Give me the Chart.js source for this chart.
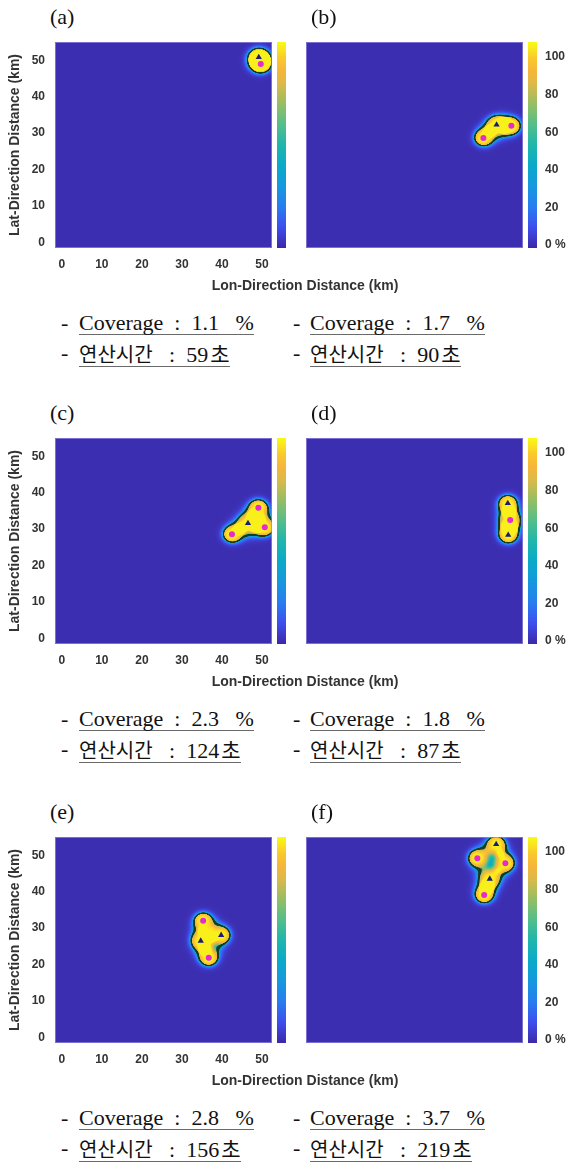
<!DOCTYPE html>
<html lang="ko">
<head>
<meta charset="UTF-8">
<title>Coverage</title>
<script src="https://cdn.jsdelivr.net/npm/chart.js"></script>
<style>
  body { margin: 0; background: #fff; }
  #page { position: relative; width: 570px; height: 1163px; overflow: hidden; }
  canvas { position: absolute; }
  .tag { position: absolute; font: 22px "Liberation Serif", "Times New Roman", serif; line-height: 22px; color: #111; }
  .xlab { position: absolute; width: 300px; text-align: center; font: bold 14px "Liberation Sans", Arial, sans-serif; line-height: 16px; color: #333; }
  .cap { position: absolute; font: 22px "Liberation Serif", "Times New Roman", serif; line-height: 22px; color: #111; white-space: nowrap; }
  .cap u { text-decoration: none; display: inline-block; border-bottom: 1.5px solid #6a6a6a; line-height: 22px; }
  .kr { font-family: "Noto Sans CJK KR", sans-serif; font-size: 20px; }
  .kr2 { font-family: "Noto Sans CJK KR", sans-serif; font-size: 21px; margin-left: 2px; }
</style>
</head>
<body>
<div id="page"></div>
<script>
// ---- data ----
const panelTags = ['(a)', '(b)', '(c)', '(d)', '(e)', '(f)'];
const coverage = ['1.1', '1.7', '2.3', '1.8', '2.8', '3.7'];
const runTime = ['59', '90', '124', '87', '156', '219'];

// sensor positions (km): pink circles and dark triangles
const circleSensors = [
    [[49.7, 49.0]],
    [[42.6, 28.7], [49.6, 32.0]],
    [[42.5, 28.6], [49.1, 35.9], [50.7, 30.5]],
    [[49.3, 32.5]],
    [[35.3, 32.0], [36.7, 21.9]],
    [[41.1, 49.2], [48.1, 47.8], [42.8, 39.1]]
];
const triangleSensors = [
    [[49.2, 50.8]],
    [[45.9, 32.3]],
    [[46.5, 31.6]],
    [[48.7, 37.1], [48.8, 28.4]],
    [[34.7, 26.5], [39.8, 28.1]],
    [[45.8, 53.0], [44.2, 43.5]]
];

const xTicks = [0, 10, 20, 30, 40, 50];
const yTicks = [0, 10, 20, 30, 40, 50];
const cbTicks = [0, 20, 40, 60, 80, 100];
const cbTickLabels = ['0 %', '20', '40', '60', '80', '100'];

const xRange = [-1.7, 52.5];
const yRange = [-1.5, 55];
const cbRange = [-1.6, 108];

// ---- layout ----
const plotTops = [42, 438, 837];
const tickFont = { family: 'Liberation Sans, Arial, sans-serif', size: 12, weight: 'bold' };
const textColor = '#333';

// parula-like colormap
const stops = [
    [0.00, 60, 40, 165], [0.10, 62, 78, 238], [0.20, 40, 125, 240], [0.30, 22, 152, 222],
    [0.40, 10, 170, 200], [0.50, 30, 182, 172], [0.60, 85, 190, 138], [0.70, 150, 190, 100],
    [0.80, 222, 185, 72], [0.86, 246, 182, 58], [0.92, 250, 200, 45], [1.00, 249, 251, 20]
];
function cmap(v) {
    let t = (v - cbRange[0]) / (cbRange[1] - cbRange[0]);
    t = Math.max(0, Math.min(1, t));
    for (let i = 1; i < stops.length; i++) {
        if (t <= stops[i][0]) {
            const a = stops[i - 1], b = stops[i];
            const f = (t - a[0]) / (b[0] - a[0]);
            return [a[1] + (b[1] - a[1]) * f, a[2] + (b[2] - a[2]) * f, a[3] + (b[3] - a[3]) * f];
        }
    }
    return [249, 251, 20];
}

// coverage field around the sensors
const K = 1.7, RC = 2.0, A = 3.2;
const lineCol = [18, 62, 40];

const heatPlugin = {
    id: 'heat',
    beforeDatasetsDraw(chart, args, opts) {
        const { ctx, chartArea: a, scales } = chart;
        const sensors = opts.sensors;
        const w = Math.round(a.right - a.left), h = Math.round(a.bottom - a.top);
        const off = document.createElement('canvas');
        off.width = w; off.height = h;
        const octx = off.getContext('2d');
        const img = octx.createImageData(w, h);
        for (let py = 0; py < h; py++) {
            const y = scales.y.getValueForPixel(a.top + py + 0.5);
            for (let px = 0; px < w; px++) {
                const x = scales.x.getValueForPixel(a.left + px + 0.5);
                let sumE = 0, sumH = 0;
                for (const s of sensors) {
                    const d = Math.hypot(x - s[0], y - s[1]);
                    sumE += Math.exp(-d / K);
                    sumH += Math.exp(-Math.pow(d / A, 4));
                }
                const sd = -K * Math.log(sumE) - RC;
                const v = sd <= 0 ? 106 * Math.min(1, sumH) : 58 * Math.exp(-sd / 0.45);
                let c = cmap(v);
                const ad = Math.abs(sd);
                if (ad < 0.24) {
                    const al = ad < 0.13 ? 1 : 1 - (ad - 0.13) / 0.11;
                    c = [c[0] + (lineCol[0] - c[0]) * al, c[1] + (lineCol[1] - c[1]) * al, c[2] + (lineCol[2] - c[2]) * al];
                }
                const k = (py * w + px) * 4;
                img.data[k] = c[0]; img.data[k + 1] = c[1]; img.data[k + 2] = c[2]; img.data[k + 3] = 255;
            }
        }
        octx.putImageData(img, 0, 0);
        ctx.save();
        ctx.drawImage(off, a.left, a.top);
        ctx.strokeStyle = 'rgba(150,140,225,0.7)';
        ctx.lineWidth = 1;
        ctx.strokeRect(a.left + 0.5, a.top + 0.5, w - 1, h - 1);
        // colorbar
        const cb = scales.y2;
        for (let py = Math.round(a.top); py < Math.round(a.bottom); py++) {
            const c = cmap(cb.getValueForPixel(py + 0.5));
            ctx.fillStyle = 'rgb(' + c.map(Math.round).join(',') + ')';
            ctx.fillRect(Math.round(a.right) + 5, py, 9, 1);
        }
        ctx.restore();
    }
};

const page = document.getElementById('page');

function addDiv(cls, html, left, top) {
    const d = document.createElement('div');
    d.className = cls;
    d.innerHTML = html;
    d.style.left = left + 'px';
    d.style.top = top + 'px';
    page.appendChild(d);
    return d;
}

// fix an axis box size and drop the label overhang padding
function fixV(w) {
    return s => { s.width = w; s.paddingTop = 0; s.paddingBottom = 0; };
}
function fixH(h) {
    return s => { s.height = h; s.paddingLeft = 0; s.paddingRight = 0; };
}

for (let i = 0; i < 6; i++) {
    const col = i % 2, row = Math.floor(i / 2);
    const top = plotTops[row];
    const cv = document.createElement('canvas');
    const cw = col ? 280 : 290, ch = 250;
    cv.width = cw; cv.height = ch;
    cv.style.left = (col ? 290 : 0) + 'px';
    cv.style.top = (top - 10) + 'px';
    cv.style.width = cw + 'px'; cv.style.height = ch + 'px';
    page.appendChild(cv);

    const toPts = arr => arr.map(p => ({ x: p[0], y: p[1] }));

    new Chart(cv, {
        type: 'scatter',
        data: {
            datasets: [
                { data: toPts(circleSensors[i]), pointStyle: 'circle', pointRadius: 3, backgroundColor: '#e52bd0', borderWidth: 0 },
                { data: toPts(triangleSensors[i]), pointStyle: 'triangle', pointRadius: 3.6, backgroundColor: '#1d1b76', borderWidth: 0 }
            ]
        },
        options: {
            responsive: false,
            animation: false,
            devicePixelRatio: 1,
            layout: { padding: { top: 10, left: 0, bottom: 0, right: 0 } },
            plugins: {
                legend: { display: false },
                tooltip: { enabled: false },
                heat: { sensors: circleSensors[i].concat(triangleSensors[i]) }
            },
            scales: {
                x: {
                    type: 'linear', min: xRange[0], max: xRange[1], display: col === 0,
                    grid: { display: false, drawTicks: false }, border: { display: false },
                    ticks: { padding: 9, font: tickFont, color: textColor, maxRotation: 0, autoSkip: false },
                    afterBuildTicks: s => { s.ticks = xTicks.map(v => ({ value: v })); },
                    afterFit: fixH(34)
                },
                y: {
                    type: 'linear', min: yRange[0], max: yRange[1], display: col === 0, position: 'left',
                    grid: { display: false, drawTicks: false }, border: { display: false },
                    ticks: { padding: 10, font: tickFont, color: textColor, autoSkip: false },
                    afterBuildTicks: s => { s.ticks = yTicks.map(v => ({ value: v })); },
                    afterFit: fixV(col ? 16 : 55),
                    title: {
                        display: true, text: 'Lat-Direction Distance (km)', color: textColor,
                        font: { family: 'Liberation Sans, Arial, sans-serif', size: 14, weight: 'bold' },
                        padding: { top: 7, bottom: 0 }
                    }
                },
                y2: {
                    type: 'linear', min: cbRange[0], max: cbRange[1], position: 'right',
                    grid: { display: false, drawTicks: false }, border: { display: false },
                    ticks: {
                        display: col === 1, padding: 22, font: tickFont, color: textColor, autoSkip: false,
                        callback: v => cbTickLabels[cbTicks.indexOf(v)]
                    },
                    afterBuildTicks: s => { s.ticks = cbTicks.map(v => ({ value: v })); },
                    afterFit: fixV(col ? 47 : 18)
                }
            }
        },
        plugins: [heatPlugin]
    });

    // panel tag, captions
    const x0 = col ? 311 : 50;
    addDiv('tag', panelTags[i], x0, top - 36);
    const dx = col ? 293 : 61, tx = col ? 310 : 79;
    const capTop = top + 270;
    addDiv('cap', '-', dx, capTop);
    addDiv('cap', '<u>Coverage&nbsp; :&nbsp; ' + coverage[i] + '&nbsp;&nbsp; %</u>', tx, capTop);
    addDiv('cap', '-', dx, capTop + 30);
    addDiv('cap', '<u><span class="kr">연산시간</span>&nbsp;&nbsp; :&nbsp; ' + runTime[i] + '<span class="kr2">초</span></u>', tx, capTop + 30);
    if (col === 0) {
        addDiv('xlab', 'Lon-Direction Distance (km)', 155, top + 235);
    }
}
</script>
</body>
</html>
